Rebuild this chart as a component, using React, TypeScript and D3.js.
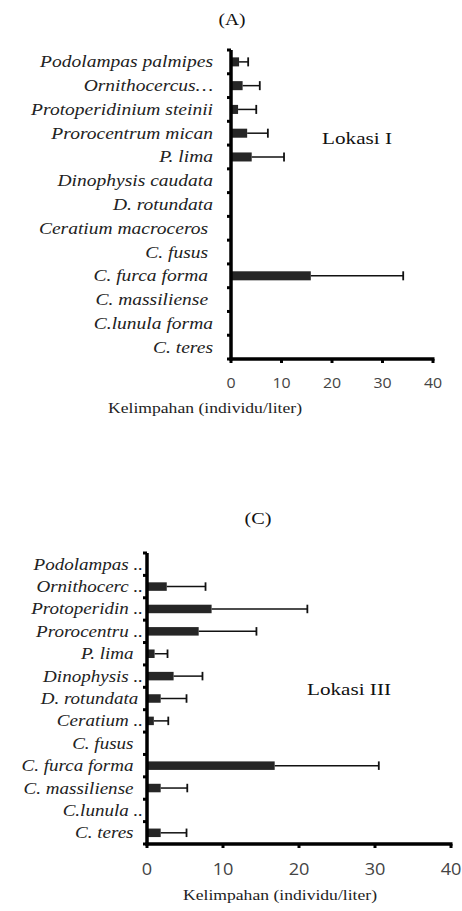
import React, { useRef, useEffect } from 'react';
import * as d3 from 'd3';

// Lokasi I
const speciesA = [
  'Podolampas palmipes', 'Ornithocercus…', 'Protoperidinium steinii', 'Prorocentrum mican',
  'P. lima', 'Dinophysis caudata', 'D. rotundata', 'Ceratium macroceros ', 'C. fusus ',
  'C. furca forma ', 'C. massiliense ', 'C.lunula forma', 'C. teres',
];
const meanA = [1.6, 2.3, 1.4, 3.2, 4.1, 0, 0, 0, 0, 15.8, 0, 0, 0];
const sdA = [1.8, 3.4, 3.6, 4.1, 6.4, 0, 0, 0, 0, 18.3, 0, 0, 0];

// Lokasi III
const speciesC = [
  'Podolampas ..', 'Ornithocerc ..', 'Protoperidin ..', 'Prorocentru ..', 'P. lima  ',
  'Dinophysis ..', 'D. rotundata ', 'Ceratium ..', 'C. fusus  ', 'C. furca forma  ',
  'C. massiliense  ', 'C.lunula ..', 'C. teres  ',
];
const meanC = [0, 2.6, 8.5, 6.8, 1.0, 3.5, 1.8, 0.9, 0, 16.8, 1.8, 0, 1.8];
const sdC = [0, 5.1, 12.6, 7.6, 1.7, 3.8, 3.4, 1.9, 0, 13.7, 3.5, 0, 3.4];

const xTicks = [0, 10, 20, 30, 40];
const axisTitle = 'Kelimpahan (individu/liter)';

const panels = [
  {
    title: '(A)', site: 'Lokasi I', names: speciesA, mean: meanA, sd: sdA,
    x0: 231, x1: 433, top: 50, bottom: 359, labelX: 213, refLabel: 2, refW: 182,
    titleX: 232, titleY: 25, siteX: 357, siteY: 144, siteW: 70,
    tickY: 388, tickSize: 14.5, axTitleX: 205, axTitleY: 413,
  },
  {
    title: '(C)', site: 'Lokasi III', names: speciesC, mean: meanC, sd: sdC,
    x0: 147, x1: 451, top: 553, bottom: 844, labelX: 143, refLabel: 2, refW: 112,
    titleX: 258, titleY: 524, siteX: 349, siteY: 695, siteW: 84,
    tickY: 875, tickSize: 16.5, axTitleX: 280, axTitleY: 900,
  },
];

const serif = '"Liberation Serif", "Times New Roman", serif';

const App: React.FC = () => {
  const svgRef = useRef<SVGSVGElement | null>(null);

  useEffect(() => {
    const svg = d3.select(svgRef.current!);
    svg.selectAll('*').remove();

    const widthOf = (t: any) => (t.node() as SVGTextElement).getComputedTextLength();
    const place = (t: any, x: number, y: number, sx: number) =>
      t.attr('transform', `translate(${x},${y}) scale(${sx},1)`);

    panels.forEach((p) => {
      const g = svg.append('g');
      const x = d3.scaleLinear().domain([0, 40]).range([p.x0, p.x1]);
      const y = d3.scaleBand<string>().domain(p.names).range([p.top, p.bottom]).padding(0);
      const bh = y.step() * 0.38;

      g.append('text')
        .attr('x', p.titleX)
        .attr('y', p.titleY)
        .attr('text-anchor', 'middle')
        .attr('font-family', serif)
        .attr('font-size', 16)
        .attr('fill', '#111')
        .attr('textLength', 27)
        .attr('lengthAdjust', 'spacingAndGlyphs')
        .text(p.title);

      // category labels, stretched like the source figure
      const labels = p.names.map((n) =>
        g.append('text')
          .attr('text-anchor', 'end')
          .attr('font-family', serif)
          .attr('font-style', 'italic')
          .attr('font-size', 16.5)
          .attr('fill', '#222')
          .style('white-space', 'pre')
          .text(n)
      );
      const lsx = p.refW / widthOf(labels[p.refLabel]);
      labels.forEach((l, i) => place(l, p.labelX, y(p.names[i])! + y.bandwidth() / 2 + 5.5, lsx));

      // bars + error bars
      p.names.forEach((n, i) => {
        const cy = y(n)! + y.bandwidth() / 2;
        if (p.mean[i] > 0) {
          g.append('rect')
            .attr('x', x(0))
            .attr('y', cy - bh / 2)
            .attr('width', x(p.mean[i]) - x(0))
            .attr('height', bh)
            .attr('fill', '#262626');
        }
        if (p.sd[i] > 0) {
          const xe = x(p.mean[i] + p.sd[i]);
          g.append('line')
            .attr('x1', x(p.mean[i])).attr('x2', xe)
            .attr('y1', cy).attr('y2', cy)
            .attr('stroke', '#111').attr('stroke-width', 1.5);
          g.append('line')
            .attr('x1', xe).attr('x2', xe)
            .attr('y1', cy - bh / 2).attr('y2', cy + bh / 2)
            .attr('stroke', '#111').attr('stroke-width', 1.8);
        }
      });

      // y axis, ticks on band edges
      const edges = p.names.map((n) => y(n)!).concat([p.bottom]);
      edges.forEach((e) => {
        g.append('line')
          .attr('x1', x(0) - 4).attr('x2', x(0))
          .attr('y1', e).attr('y2', e)
          .attr('stroke', '#000').attr('stroke-width', 3);
      });
      g.append('line')
        .attr('x1', x(0)).attr('x2', x(0))
        .attr('y1', p.top).attr('y2', p.bottom + 1.5)
        .attr('stroke', '#000').attr('stroke-width', 3.5);

      // x axis
      g.append('line')
        .attr('x1', x(0) - 1.5).attr('x2', x(40) + 1.5)
        .attr('y1', p.bottom).attr('y2', p.bottom)
        .attr('stroke', '#000').attr('stroke-width', 3.5);
      xTicks.forEach((t) => {
        g.append('line')
          .attr('x1', x(t)).attr('x2', x(t))
          .attr('y1', p.bottom).attr('y2', p.bottom + 4)
          .attr('stroke', '#000').attr('stroke-width', 3);
        const tl = g.append('text')
          .attr('text-anchor', 'middle')
          .attr('font-family', '"Open Sans", "Liberation Sans", sans-serif')
          .attr('font-size', p.tickSize)
          .attr('fill', '#444')
          .text(t);
        place(tl, x(t), p.tickY, 1.1);
      });

      g.append('text')
        .attr('x', p.axTitleX)
        .attr('y', p.axTitleY)
        .attr('text-anchor', 'middle')
        .attr('font-family', serif)
        .attr('font-size', 15)
        .attr('fill', '#222')
        .attr('textLength', 194)
        .attr('lengthAdjust', 'spacingAndGlyphs')
        .text(axisTitle);

      const site = g.append('text')
        .attr('text-anchor', 'middle')
        .attr('font-family', serif)
        .attr('font-size', 17.5)
        .attr('fill', '#111')
        .text(p.site);
      place(site, p.siteX, p.siteY, p.siteW / widthOf(site));
    });
  }, []);

  return (
    <svg
      ref={svgRef}
      width={462}
      height={911}
      style={{ position: 'absolute', left: 0, top: 0, background: '#fff' }}
    />
  );
};

export default App;
